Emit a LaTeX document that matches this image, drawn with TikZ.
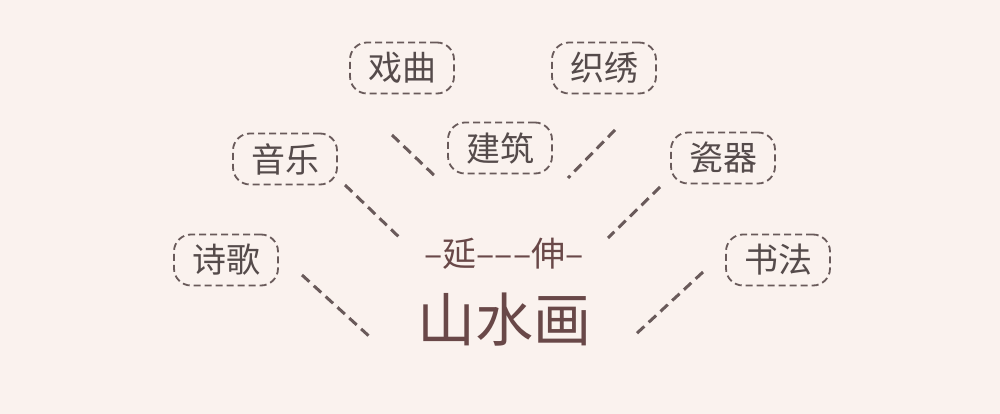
\documentclass[tikz,border=0pt]{standalone}
\usepackage{fontspec}
\newfontfamily\cjk{Noto Sans CJK SC}
\usetikzlibrary{positioning}
\definecolor{PaperColor}{RGB}{250,242,238}
\definecolor{TitleColor}{RGB}{105,72,72}
\definecolor{LabelColor}{RGB}{85,75,75}
\definecolor{DashColor}{RGB}{105,90,90}
\tikzset{
  art/.style={draw=DashColor, line width=1.8pt, dash pattern=on 7pt off 4pt, rounded corners=17pt, minimum width=104pt, minimum height=51pt, inner sep=0pt, text=LabelColor, font=\cjk\fontsize{34}{34}\selectfont},
  title/.style={text=TitleColor, inner sep=0pt},
  spoke/.style={DashColor, line width=3pt, dash pattern=on 10pt off 6pt}
}

\begin{document}
\begin{tikzpicture}[x=1pt,y=-1pt]
  % Paper
  \fill[PaperColor] (0,0) rectangle (1000,414);

  % Arts
  \node[art] (shige) at (226,260) {诗歌};
  \node[art] (yinyue) at (285,159) {音乐};
  \node[art] (xiqu) at (402,68) {戏曲};
  \node[art] (jianzhu) at (500,148) {建筑};
  \node[art] (zhixiu) at (604,68) {织绣};
  \node[art] (ciqi) at (723,158) {瓷器};
  \node[art] (shufa) at (778,260) {书法};

  % Title
  \node[title, font=\cjk\fontsize{34}{34}\selectfont] (yanshen) at (504,254) {–延–––伸–};
  \node[title, font=\cjk\fontsize{58}{58}\selectfont] (shanshui) at (504,320) {山水画};

  % Spokes
  \coordinate (a1) at (302,275); \coordinate (a2) at (370,337);
  \coordinate (b1) at (345,185); \coordinate (b2) at (400,238);
  \coordinate (c1) at (392,135); \coordinate (c2) at (437,178);
  \coordinate (d1) at (615,130); \coordinate (d2) at (568,178);
  \coordinate (e1) at (660,187); \coordinate (e2) at (608,238);
  \coordinate (f1) at (703,272); \coordinate (f2) at (635,335);
  \draw[spoke] (a1) -- (a2);
  \draw[spoke] (b1) -- (b2);
  \draw[spoke] (c1) -- (c2);
  \draw[spoke] (d1) -- (d2);
  \draw[spoke] (e1) -- (e2);
  \draw[spoke] (f1) -- (f2);
\end{tikzpicture}
\end{document}
